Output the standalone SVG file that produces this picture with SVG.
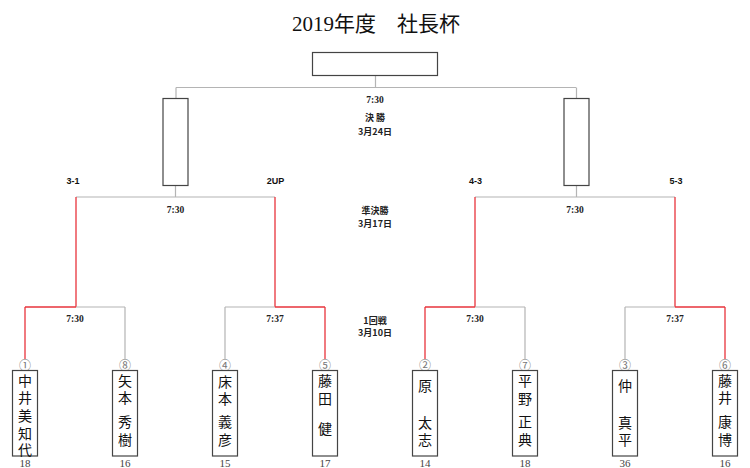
<svg xmlns="http://www.w3.org/2000/svg" width="750" height="468" viewBox="0 0 750 468">
<style>
.bg{fill:#ffffff}
.box{fill:#ffffff;stroke:#444444;stroke-width:1.2}
.g{fill:none;stroke:#b4b4b4;stroke-width:1.2}
.r{fill:none;stroke:#e8343c;stroke-width:1.3}
text{dominant-baseline:central;text-anchor:middle}
.title{font-family:"Liberation Serif","Noto Sans CJK JP",serif;font-size:21px;fill:#111111}
.t{font-family:"Liberation Serif","Noto Sans CJK JP",serif;font-size:9.5px;font-weight:bold;fill:#222222}
.j{font-family:"Noto Sans CJK JP",sans-serif;font-size:9px;font-weight:bold;fill:#222222}
.s{font-family:"Liberation Sans",Arial,sans-serif;font-size:9px;font-weight:bold;fill:#111111}
.nm{font-family:"Noto Sans CJK JP",serif;font-size:14px;fill:#111111}
.cn{font-family:"Noto Sans CJK JP",sans-serif;font-size:12px;fill:#777777}
.sc{font-family:"Liberation Serif",serif;font-size:11px;fill:#444444}
</style>
<rect class="bg" x="0" y="0" width="750" height="468"/>
<text class="title" x="376" y="24">2019年度　社長杯</text>

<g id="connectors">
  <path class="g" d="M375.5 75.5V87.5M176 87.5H576M176 87.5V98.5M576.5 87.5V98.5"/>
  <path class="g" d="M175.5 185.5V197M76 197H275M576.5 185.5V197M475 197H675"/>
  <path class="r" d="M76 197V307M275 197V307M475 197V307M675 197V307"/>
  <path class="r" d="M25 307H76M275 307H325M425 307H475M675 307H725"/>
  <path class="g" d="M76 307H125M225 307H275M475 307H525M625 307H675"/>
  <path class="r" d="M25 307V359M325 307V359M425 307V359M725 307V359"/>
  <path class="g" d="M125 307V359M225 307V359M525 307V359M625 307V359"/>
</g>

<g id="champion"><rect class="box" x="312.5" y="52.5" width="125" height="23"/></g>
<g id="finalist-left"><rect class="box" x="163" y="98.5" width="25" height="87"/></g>
<g id="finalist-right"><rect class="box" x="564" y="98.5" width="25" height="87"/></g>

<g id="labels">
  <text class="t" x="375" y="100">7:30</text>
  <text class="j" x="375" y="117.5">決 勝</text>
  <text class="j" x="375" y="131">3月24日</text>
  <text class="j" x="375" y="210">準決勝</text>
  <text class="j" x="375" y="223.5">3月17日</text>
  <text class="j" x="375" y="320">1回戦</text>
  <text class="j" x="375" y="332.5">3月10日</text>
  <text class="t" x="175.5" y="209.5">7:30</text>
  <text class="t" x="575" y="209.5">7:30</text>
  <text class="t" x="75" y="319">7:30</text>
  <text class="t" x="275" y="319">7:37</text>
  <text class="t" x="475" y="319">7:30</text>
  <text class="t" x="675" y="319">7:37</text>
  <text class="s" x="73" y="180.5">3-1</text>
  <text class="s" x="275.5" y="180.5">2UP</text>
  <text class="s" x="475.5" y="180.5">4-3</text>
  <text class="s" x="676" y="180.5">5-3</text>
</g>

<g id="p1">
  <text class="cn" x="25" y="364.5">①</text>
  <rect class="box" x="12.5" y="370.5" width="25" height="85.5"/>
  <text class="nm"><tspan x="25" y="379.5">中</tspan><tspan x="25" y="397">井</tspan><tspan x="25" y="415">美</tspan><tspan x="25" y="432.5">知</tspan><tspan x="25" y="449">代</tspan></text>
  <text class="sc" x="25" y="462.5">18</text>
</g>
<g id="p8">
  <text class="cn" x="125" y="364.5">⑧</text>
  <rect class="box" x="112.5" y="370.5" width="25" height="85.5"/>
  <text class="nm"><tspan x="125" y="379.5">矢</tspan><tspan x="125" y="397">本</tspan><tspan x="125" y="421">秀</tspan><tspan x="125" y="438.5">樹</tspan></text>
  <text class="sc" x="125" y="462.5">16</text>
</g>
<g id="p4">
  <text class="cn" x="225" y="364.5">④</text>
  <rect class="box" x="212.5" y="370.5" width="25" height="85.5"/>
  <text class="nm"><tspan x="225" y="381">床</tspan><tspan x="225" y="398">本</tspan><tspan x="225" y="421">義</tspan><tspan x="225" y="438.5">彦</tspan></text>
  <text class="sc" x="225" y="462.5">15</text>
</g>
<g id="p5">
  <text class="cn" x="325" y="364.5">⑤</text>
  <rect class="box" x="312.5" y="370.5" width="25" height="85.5"/>
  <text class="nm"><tspan x="325" y="379.5">藤</tspan><tspan x="325" y="398">田</tspan><tspan x="325" y="427.5">健</tspan></text>
  <text class="sc" x="325" y="462.5">17</text>
</g>
<g id="p2">
  <text class="cn" x="425" y="364.5">②</text>
  <rect class="box" x="412.5" y="370.5" width="25" height="85.5"/>
  <text class="nm"><tspan x="425" y="385">原</tspan><tspan x="425" y="422">太</tspan><tspan x="425" y="438.5">志</tspan></text>
  <text class="sc" x="425" y="462.5">14</text>
</g>
<g id="p7">
  <text class="cn" x="525" y="364.5">⑦</text>
  <rect class="box" x="512.5" y="370.5" width="25" height="85.5"/>
  <text class="nm"><tspan x="525" y="379.5">平</tspan><tspan x="525" y="398">野</tspan><tspan x="525" y="421">正</tspan><tspan x="525" y="438.5">典</tspan></text>
  <text class="sc" x="525" y="462.5">18</text>
</g>
<g id="p3">
  <text class="cn" x="625" y="364.5">③</text>
  <rect class="box" x="612.5" y="370.5" width="25" height="85.5"/>
  <text class="nm"><tspan x="625" y="385">仲</tspan><tspan x="625" y="422">真</tspan><tspan x="625" y="438.5">平</tspan></text>
  <text class="sc" x="625" y="462.5">36</text>
</g>
<g id="p6">
  <text class="cn" x="725" y="364.5">⑥</text>
  <rect class="box" x="712.5" y="370.5" width="25" height="85.5"/>
  <text class="nm"><tspan x="725" y="379.5">藤</tspan><tspan x="725" y="397">井</tspan><tspan x="725" y="421">康</tspan><tspan x="725" y="438.5">博</tspan></text>
  <text class="sc" x="725" y="462.5">16</text>
</g>
</svg>
